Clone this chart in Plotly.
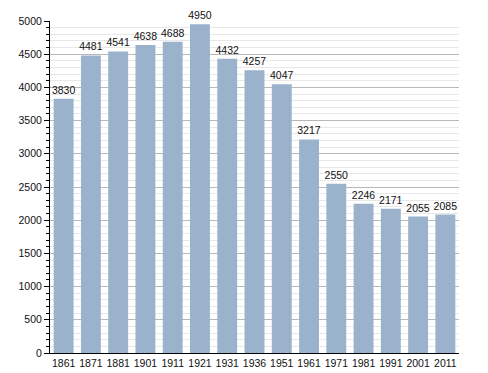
import plotly.graph_objects as go

years = ["1861", "1871", "1881", "1901", "1911", "1921", "1931", "1936", "1951",
         "1961", "1971", "1981", "1991", "2001", "2011"]
population = [3830, 4481, 4541, 4638, 4688, 4950, 4432, 4257, 4047,
              3217, 2550, 2246, 2171, 2055, 2085]

fig = go.Figure(go.Bar(
    x=years, y=population,
    text=[str(v) for v in population], textposition="outside",
    textfont=dict(size=10.5, color="#111"),
    constraintext="none",
    marker=dict(color="#9ab2cc", line=dict(width=0)),
    cliponaxis=False,
))

fig.update_layout(
    width=488, height=373,
    margin=dict(l=50, r=29, t=21, b=20, autoexpand=False),
    paper_bgcolor="white", plot_bgcolor="white",
    bargap=0.27,
    font=dict(family="Liberation Sans, Arial, sans-serif", size=10.5, color="#111"),
    showlegend=False,
)
fig.update_yaxes(
    range=[0, 5000], tickmode="linear", tick0=0, dtick=500,
    automargin=False,
    showgrid=True, gridcolor="#b8b8b8", gridwidth=1,
    showline=True, linecolor="black", linewidth=1,
    ticks="outside", ticklen=5, tickcolor="black",
    minor=dict(dtick=100, showgrid=True, gridcolor="#e8e8e8", ticks="outside",
               ticklen=3, tickcolor="black"),
    zeroline=False,
)
fig.update_xaxes(
    automargin=False,
    showline=True, linecolor="black", linewidth=1,
    ticks="", showgrid=False,
)
fig.write_html("out.html", config={"displayModeBar": False},
               post_script="document.body.style.margin='0';")
